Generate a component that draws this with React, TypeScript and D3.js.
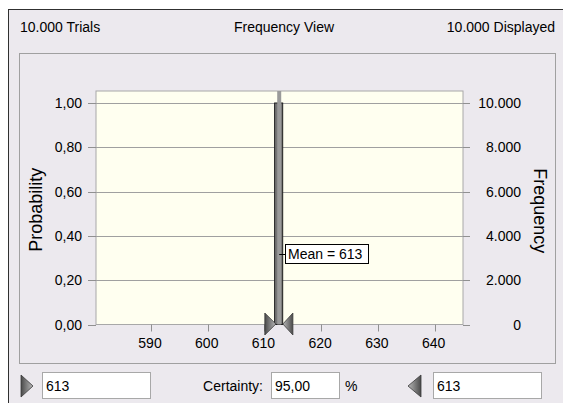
import React from "react";
import * as d3 from "d3";

// ---- data ----
const headerTexts = ["10.000 Trials", "Frequency View", "10.000 Displayed"];
const xTicks = [590, 600, 610, 620, 630, 640];
const probTicks = [0, 0.2, 0.4, 0.6, 0.8, 1.0];
const probTickLabels = ["0,00", "0,20", "0,40", "0,60", "0,80", "1,00"];
const freqTicks = [0, 2000, 4000, 6000, 8000, 10000];
const freqTickLabels = ["0", "2.000", "4.000", "6.000", "8.000", "10.000"];
const binStarts = [611.7];
const binEnds = [613.3];
const binCounts = [10000];
const meanValues = [612.6];
const meanLabel = "Mean = 613";
const certaintyBounds = [612.0, 613.25];
const leftInput = "613";
const certaintyInput = "95,00";
const rightInput = "613";
const yAxisTitle = "Probability";
const y2AxisTitle = "Frequency";

const W = 563;
const H = 403;
const FONT = "'Liberation Sans', Arial, sans-serif";

export default function App() {
  const plotL = 96, plotR = 463, plotT = 91, plotB = 324.5;
  const x = d3.scaleLinear().domain([580.3, 645]).range([plotL, plotR]);
  const yP = d3.scaleLinear().domain([0, 1]).range([plotB, 103]);
  const yF = d3.scaleLinear().domain([0, 10000]).range([plotB, 103]);
  const meanX = x(meanValues[0]);
  const meanY = yP(0.32);

  const bars = binStarts.map((s, i) => ({ s, e: binEnds[i], c: binCounts[i] }));

  return (
    <div style={{ position: "absolute", left: 0, top: 0 }}>
      <svg width={W} height={H} style={{ display: "block", fontFamily: FONT }}>
        <defs>
          <linearGradient id="triR" x1="0" y1="0" x2="1" y2="0">
            <stop offset="0" stopColor="#4a4a4a" />
            <stop offset="1" stopColor="#b8b8b8" />
          </linearGradient>
          <linearGradient id="triL" x1="1" y1="0" x2="0" y2="0">
            <stop offset="0" stopColor="#4a4a4a" />
            <stop offset="1" stopColor="#b8b8b8" />
          </linearGradient>
        </defs>
        <rect x={0} y={0} width={W} height={H} fill="#ffffff" />
        <rect x={8} y={9} width={W - 8} height={H - 9} fill="#ECE9EE" />
        <line x1={8.5} y1={9} x2={8.5} y2={H} stroke="#303030" />
        <line x1={8} y1={9.5} x2={W} y2={9.5} stroke="#303030" />

        {/* header */}
        <text x={20} y={32} fontSize={14} fill="#000">{headerTexts[0]}</text>
        <text x={284} y={32} fontSize={14} fill="#000" textAnchor="middle">{headerTexts[1]}</text>
        <text x={555} y={32} fontSize={14} fill="#000" textAnchor="end">{headerTexts[2]}</text>

        {/* frame */}
        <rect x={19.5} y={53.5} width={536} height={310} fill="none" stroke="#a0a0a0" />

        {/* plot area */}
        <rect x={plotL} y={plotT} width={plotR - plotL} height={plotB - plotT} fill="#FFFFF0" stroke="#a8a8a8" />

        {/* gridlines */}
        {probTicks.map((t, i) => (
          <g key={"g" + i}>
            {i > 0 && (
              <line x1={plotL} x2={plotR} y1={Math.round(yP(t)) + 0.5} y2={Math.round(yP(t)) + 0.5} stroke="#a0a0a0" />
            )}
            <line x1={88} x2={plotL} y1={Math.round(yP(t)) + 0.5} y2={Math.round(yP(t)) + 0.5} stroke="#909090" />
            <text x={82} y={yP(t) + 5} fontSize={14} textAnchor="end" fill="#000">{probTickLabels[i]}</text>
          </g>
        ))}
        {freqTicks.map((t, i) => (
          <g key={"f" + i}>
            <line x1={plotR} x2={470} y1={Math.round(yF(t)) + 0.5} y2={Math.round(yF(t)) + 0.5} stroke="#909090" />
            <text x={521} y={yF(t) + 5} fontSize={14} textAnchor="end" fill="#000">{freqTickLabels[i]}</text>
          </g>
        ))}
        {xTicks.map((t, i) => (
          <g key={"x" + i}>
            <line x1={Math.round(x(t)) + 0.5} x2={Math.round(x(t)) + 0.5} y1={plotB} y2={331.5} stroke="#909090" />
            <text x={x(t) - 1} y={348} fontSize={14} textAnchor="middle" fill="#000">{t}</text>
          </g>
        ))}

        {/* axis titles */}
        <text transform={`translate(42,${(plotT + plotB) / 2 + 2}) rotate(-90)`} fontSize={18} textAnchor="middle" fill="#000">{yAxisTitle}</text>
        <text transform={`translate(534,${(plotT + plotB) / 2 + 3}) rotate(90)`} fontSize={18} textAnchor="middle" fill="#000">{y2AxisTitle}</text>

        {/* bars */}
        {bars.map((b, i) => (
          <rect key={"b" + i} x={x(b.s) + 0.5} y={yF(b.c)} width={x(b.e) - x(b.s) - 1} height={plotB - yF(b.c)} fill="#767676" stroke="#1e1e1e" />
        ))}

        {/* mean line */}
        <line x1={meanX} x2={meanX} y1={plotT} y2={plotB} stroke="#9a9a9a" strokeWidth={4} />

        {/* mean label */}
        <line x1={meanX} x2={286} y1={Math.round(meanY) + 0.5} y2={Math.round(meanY) + 0.5} stroke="#000" />
        <rect x={285.5} y={Math.round(meanY) - 9.5} width={83} height={19} fill="#fff" stroke="#000" />
        <text x={288} y={Math.round(meanY) + 5} fontSize={14} fill="#000">{meanLabel}</text>

        {/* certainty grabbers */}
        <polygon
          points={`${x(certaintyBounds[0]) - 11},313 ${x(certaintyBounds[0]) - 11},335 ${x(certaintyBounds[0])},324`}
          fill="url(#triR)" stroke="#3a3a3a" strokeWidth={0.8}
        />
        <polygon
          points={`${x(certaintyBounds[1]) + 10},313 ${x(certaintyBounds[1]) + 10},335 ${x(certaintyBounds[1])},324`}
          fill="url(#triL)" stroke="#3a3a3a" strokeWidth={0.8}
        />

        {/* bottom controls */}
        <polygon points="21,375 21,397 33,386" fill="url(#triR)" stroke="#3a3a3a" strokeWidth={0.8} />
        <rect x={42.5} y={372.5} width={108} height={26} fill="#fff" stroke="#a8a8a8" />
        <text x={46} y={391} fontSize={14} fill="#000">{leftInput}</text>

        <text x={263} y={391} fontSize={14} fill="#000" textAnchor="end">Certainty:</text>
        <rect x={271.5} y={372.5} width={68} height={26} fill="#fff" stroke="#a8a8a8" />
        <text x={275} y={391} fontSize={14} fill="#000">{certaintyInput}</text>
        <text x={345} y={391} fontSize={14} fill="#000">%</text>

        <polygon points="421,375 421,397 408,386" fill="url(#triL)" stroke="#3a3a3a" strokeWidth={0.8} />
        <rect x={433.5} y={372.5} width={108} height={26} fill="#fff" stroke="#a8a8a8" />
        <text x={437} y={391} fontSize={14} fill="#000">{rightInput}</text>
      </svg>
    </div>
  );
}
